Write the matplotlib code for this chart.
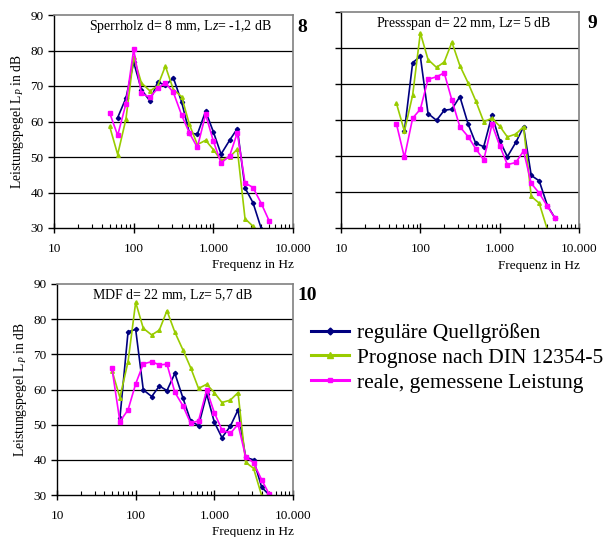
import numpy as np
import matplotlib
matplotlib.use("Agg")
import matplotlib.pyplot as plt
from matplotlib.ticker import FixedLocator, LogLocator, NullFormatter
from matplotlib.lines import Line2D

plt.rcParams['font.family'] = ['Liberation Serif', 'DejaVu Serif']
plt.rcParams['mathtext.fontset'] = 'custom'
plt.rcParams['mathtext.rm'] = 'Liberation Serif'
plt.rcParams['mathtext.it'] = 'Liberation Serif:italic'

nan = np.nan

# Terzband-Mittenfrequenzen
freq = [50, 63, 80, 100, 125, 160, 200, 250, 315, 400, 500, 630, 800,
        1000, 1250, 1600, 2000, 2500, 3150, 4000, 5000]

# 8: Sperrholz
blue8 = [nan, 61.1, 66.6, 76.7, 69.0, 65.8, 71.1, 70.2, 72.3, 65.5, 56.8, 56.4, 62.9,
         57.1, 50.8, 54.7, 58.0, 41.3, 37.1, 29.8, nan]
green8 = [58.6, 50.7, 60.7, 78.2, 70.9, 68.6, 70.0, 75.6, 69.0, 67.0, 59.2, 53.5, 54.7,
          52.1, 49.1, 50.0, 52.2, 32.6, 30.5, nan, nan]
mag8 = [62.4, 56.1, 65.0, 80.3, 67.9, 66.8, 69.3, 70.9, 68.2, 61.8, 56.8, 52.7, 62.0,
        54.5, 48.3, 50.3, 56.8, 42.7, 41.4, 36.9, 32.1]

# 9: Pressspan
blue9 = [nan, 57.0, 75.9, 77.7, 61.8, 59.9, 62.7, 63.0, 66.5, 58.9, 53.5, 52.6, 61.3,
         54.3, 49.8, 53.8, 58.1, 44.6, 43.1, 36.2, 32.7]
green9 = [64.6, 56.9, 66.9, 84.2, 76.8, 74.6, 76.1, 81.6, 75.1, 70.3, 65.3, 59.5, 60.5,
          58.3, 55.3, 56.1, 58.1, 38.8, 36.9, 29.5, nan]
mag9 = [58.9, 49.6, 60.5, 63.0, 71.3, 72.0, 73.1, 65.5, 58.1, 55.4, 52.0, 48.9, 58.8,
        52.9, 47.6, 48.2, 51.4, 42.4, 39.7, 36.0, 32.7]

# 10: MDF
blue10 = [nan, 51.8, 76.4, 77.1, 59.9, 58.0, 61.0, 59.7, 64.6, 57.5, 51.1, 49.7, 58.7,
          50.7, 46.3, 49.6, 54.2, 40.7, 40.0, 32.2, 30.0]
green10 = [65.4, 57.7, 67.9, 84.8, 77.4, 75.5, 76.9, 82.4, 76.3, 71.2, 66.2, 60.3, 61.5,
           59.1, 56.3, 57.0, 59.1, 39.3, 37.6, 29.8, nan]
mag10 = [66.0, 50.9, 54.2, 61.6, 67.3, 67.9, 67.0, 67.2, 59.2, 55.3, 50.4, 51.1, 59.9,
         53.4, 48.5, 47.5, 50.1, 40.9, 39.2, 34.3, 30.2]

titles = ["Sperrholz d= 8 mm, L$\\mathit{z}$= -1,2 dB",
          "Pressspan d= 22 mm, L$\\mathit{z}$= 5 dB",
          "MDF d= 22 mm, L$\\mathit{z}$= 5,7 dB"]
numbers = ["8", "9", "10"]
labels = ["reguläre Quellgrößen", "Prognose nach DIN 12354-5", "reale, gemessene Leistung"]
xticks = [10, 100, 1000, 10000]
xticklabels = ["10", "100", "1.000", "10.000"]

c_blue = "#000080"
c_green = "#99cc00"
c_mag = "#ff00ff"

fig = plt.figure(figsize=(6.12, 5.37), dpi=100)

W, H = 612, 537
def box(l, r, t, b):
    return [l / W, 1 - b / H, (r - l) / W, (b - t) / H]

axes = [fig.add_axes(box(54, 293, 15, 228)),
        fig.add_axes(box(341, 579, 12, 228)),
        fig.add_axes(box(57, 293, 284, 495))]
title_x = [0.53, 0.515, 0.49]
num_pos = [(302, 27), (592, 23), (307, 296)]

data = [(blue8, green8, mag8), (blue9, green9, mag9), (blue10, green10, mag10)]

for i, ax in enumerate(axes):
    b, g, m = data[i]
    ax.plot(freq, b, color=c_blue, lw=1.2, marker="D", ms=2.2)
    ax.plot(freq, g, color=c_green, lw=1.2, marker="^", ms=2.6)
    ax.plot(freq, m, color=c_mag, lw=1.2, marker="s", ms=2.2)

    ax.set_xscale("log")
    ax.set_xlim(10, 10000)
    ax.set_ylim(30, 90)
    ax.set_yticks(range(30, 100, 10))
    for y in range(40, 90, 10):
        ax.axhline(y, color="black", lw=0.9, zorder=0)

    ax.xaxis.set_major_locator(FixedLocator(xticks))
    ax.set_xticklabels(xticklabels)
    ax.xaxis.set_minor_locator(LogLocator(base=10, subs=np.arange(2, 10)))
    ax.xaxis.set_minor_formatter(NullFormatter())
    ax.tick_params(axis="x", which="major", direction="inout", length=7, width=1,
                   labelsize=9.5, pad=7)
    ax.tick_params(axis="x", which="minor", direction="in", length=3, width=0.8)
    ax.tick_params(axis="y", direction="out", length=4, width=1, labelsize=9.5)
    if i == 1:
        ax.tick_params(axis="y", labelleft=False)

    for s in ["top", "right"]:
        ax.spines[s].set_color("#808080")
        ax.spines[s].set_linewidth(1.2)
    for s in ["left", "bottom"]:
        ax.spines[s].set_color("black")
        ax.spines[s].set_linewidth(1.0)

    ax.text(title_x[i], 0.948, titles[i], transform=ax.transAxes, ha="center",
            va="center", fontsize=10)
    ax.text(1.005, -0.175, "Frequenz in Hz", transform=ax.transAxes, ha="right",
            va="center", fontsize=9.5)
    if i != 1:
        ax.set_ylabel("Leistungspegel L$_{\\mathit{P}}$ in dB", fontsize=9.8, labelpad=3)

    nx, ny = num_pos[i]
    fig.text(nx / W, 1 - ny / H, numbers[i], ha="center", va="center",
             fontsize=14, fontweight="bold")

handles = [Line2D([], [], color=c_blue, lw=2.2, marker="D", ms=3.5),
           Line2D([], [], color=c_green, lw=2.2, marker="^", ms=4),
           Line2D([], [], color=c_mag, lw=2.2, marker="s", ms=3.5)]
fig.legend(handles, labels, loc="upper left", bbox_to_anchor=(311 / W, 1 - 323 / H),
           frameon=False, fontsize=15.5, handlelength=1.75, handletextpad=0.4,
           labelspacing=0.22, borderaxespad=0, borderpad=0)

fig.savefig("out.png", dpi=100)
